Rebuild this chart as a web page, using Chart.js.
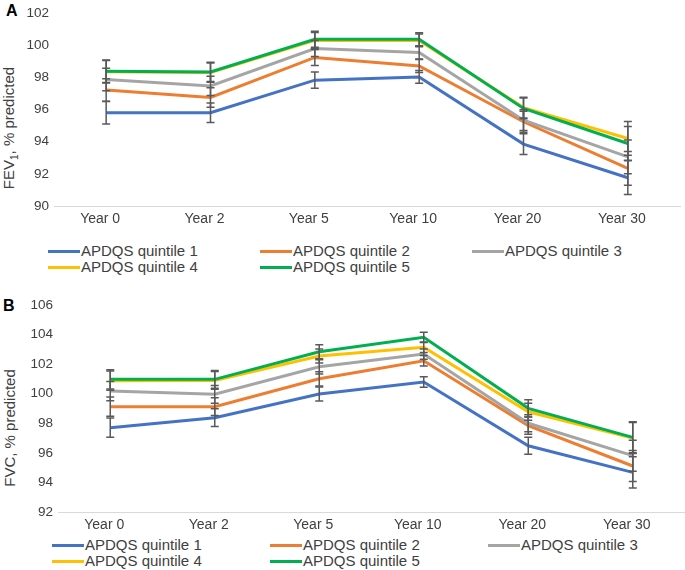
<!DOCTYPE html>
<html lang="en">
<head>
    <meta charset="UTF-8">
    <title>FEV1 and FVC by APDQS quintile</title>
    <style>
        body {
            margin: 0;
            font-family: "Liberation Sans", Arial, sans-serif;
            background: #fff;
        }
        .page {
            position: relative;
            width: 685px;
            height: 570px;
        }
        canvas {
            position: absolute;
            left: 0;
        }
        .panel {
            position: absolute;
            font-weight: bold;
            font-size: 16px;
            color: #000;
        }
        .ytitle {
            position: absolute;
            font-size: 15px;
            color: #404040;
            white-space: nowrap;
            transform: translate(-50%, -50%) rotate(-90deg);
        }
        .ytitle sub {
            font-size: 10px;
        }
        .legend {
            position: absolute;
            display: grid;
            font-size: 15px;
            color: #404040;
            line-height: 16px;
        }
        .legend .item {
            display: flex;
            align-items: center;
            white-space: nowrap;
        }
        .legend .swatch {
            display: inline-block;
            width: 32px;
            height: 3px;
            margin-right: 1px;
        }
    </style>
    <script src="https://cdn.jsdelivr.net/npm/chart.js"></script>
</head>
<body>
<div class="page">
    <div class="panel" style="left:6px; top:2px;">A</div>
    <div class="ytitle" style="left:10px; top:128px;">FEV<sub>1</sub>, % predicted</div>
    <canvas id="chartA" width="685" height="230" style="top:0;"></canvas>
    <div id="legendA" class="legend" style="left:48px; top:243px; grid-template-columns: 212px 212px 212px;"></div>

    <div class="panel" style="left:3px; top:297px;">B</div>
    <div class="ytitle" style="left:9px; top:428px;">FVC, % predicted</div>
    <canvas id="chartB" width="685" height="246" style="top:290px;"></canvas>
    <div id="legendB" class="legend" style="left:52px; top:537px; grid-template-columns: 218px 218px 218px;"></div>
</div>

<script>
    // categorías y series
    const years = ['Year 0', 'Year 2', 'Year 5', 'Year 10', 'Year 20', 'Year 30'];
    const quintiles = ['APDQS quintile 1', 'APDQS quintile 2', 'APDQS quintile 3', 'APDQS quintile 4', 'APDQS quintile 5'];
    const colores = ['#4472C4', '#ED7D31', '#A5A5A5', '#FFC000', '#00B050'];

    // Panel A: FEV1, % predicted
    const fevQ1 = [95.8, 95.8, 97.83, 98.03, 93.85, 91.76];
    const fevQ2 = [97.22, 96.75, 99.24, 98.71, 95.24, 92.34];
    const fevQ3 = [97.87, 97.47, 99.8, 99.55, 95.34, 93.06];
    const fevQ4 = [98.35, 98.3, 100.3, 100.3, 96.12, 94.2];
    const fevQ5 = [98.39, 98.34, 100.37, 100.37, 96.07, 93.89];
    const fevErr = [0.7, 0.6, 0.5, 0.4, 0.65, 1.05];
    const fevTicks = { min: 90, max: 102, step: 2 };

    // Panel B: FVC, % predicted
    const fvcQ1 = [97.7, 98.38, 99.98, 100.79, 96.48, 94.68];
    const fvcQ2 = [99.12, 99.12, 101.01, 102.23, 97.84, 95.11];
    const fvcQ3 = [100.18, 99.96, 101.82, 102.68, 98.0, 95.81];
    const fvcQ4 = [100.88, 100.9, 102.55, 103.14, 98.78, 97.0];
    const fvcQ5 = [100.97, 100.97, 102.84, 103.81, 99.01, 97.05];
    const fvcErr = [0.65, 0.6, 0.48, 0.35, 0.58, 1.05];
    const fvcTicks = { min: 92, max: 106, step: 2 };

    const fuente = '"Liberation Sans", Arial, sans-serif';

    // barras de error dibujadas con las escalas del gráfico
    const errorBars = {
        id: 'errorBars',
        afterDatasetsDraw(chart, args, opts) {
            const ctx = chart.ctx;
            const y = chart.scales.y;
            const err = opts.err || [];
            ctx.save();
            ctx.strokeStyle = '#595959';
            ctx.lineWidth = 1.5;
            chart.data.datasets.forEach((ds, i) => {
                const meta = chart.getDatasetMeta(i);
                meta.data.forEach((pt, j) => {
                    const v = ds.data[j];
                    const e = err[j];
                    const x = pt.x;
                    const top = y.getPixelForValue(v + e);
                    const bot = y.getPixelForValue(v - e);
                    ctx.beginPath();
                    ctx.moveTo(x, top); ctx.lineTo(x, bot);
                    ctx.moveTo(x - 4, top); ctx.lineTo(x + 4, top);
                    ctx.moveTo(x - 4, bot); ctx.lineTo(x + 4, bot);
                    ctx.stroke();
                });
            });
            ctx.restore();
        }
    };

    function crearGrafico(id, series, err, rango, ejeY, pad) {
        const datasets = series.map((d, i) => ({
            label: quintiles[i],
            data: d,
            borderColor: colores[i],
            backgroundColor: colores[i],
            borderWidth: 3,
            pointRadius: 0,
            tension: 0,
            order: 4 - i
        }));
        return new Chart(document.getElementById(id), {
            type: 'line',
            data: { labels: years, datasets: datasets },
            plugins: [errorBars],
            options: {
                responsive: false,
                animation: false,
                layout: { padding: pad },
                plugins: {
                    legend: { display: false },
                    tooltip: { enabled: false },
                    errorBars: { err: err }
                },
                scales: {
                    x: {
                        offset: true,
                        grid: { display: false, drawTicks: false },
                        border: { color: '#D9D9D9', width: 1 },
                        ticks: { color: '#404040', padding: 5, labelOffset: -6, font: { family: fuente, size: 14 } },
                        afterFit: s => { s.height = 24; }
                    },
                    y: {
                        min: rango.min,
                        max: rango.max,
                        grid: { display: false, drawTicks: false },
                        border: { display: false },
                        ticks: { stepSize: rango.step, color: '#404040', padding: 5, font: { family: fuente, size: 13.5 } },
                        afterFit: s => { s.width = ejeY; }
                    }
                }
            }
        });
    }

    function leyenda(id, chart) {
        const cont = document.getElementById(id);
        chart.data.datasets.forEach(ds => {
            const item = document.createElement('div');
            item.className = 'item';
            const sw = document.createElement('span');
            sw.className = 'swatch';
            sw.style.background = ds.borderColor;
            item.appendChild(sw);
            item.appendChild(document.createTextNode(ds.label));
            cont.appendChild(item);
        });
    }

    const chartA = crearGrafico('chartA', [fevQ1, fevQ2, fevQ3, fevQ4, fevQ5], fevErr, fevTicks, 54,
        { top: 12, right: 5, bottom: 0, left: 0 });
    const chartB = crearGrafico('chartB', [fvcQ1, fvcQ2, fvcQ3, fvcQ4, fvcQ5], fvcErr, fvcTicks, 58,
        { top: 15, right: 0, bottom: 0, left: 0 });

    leyenda('legendA', chartA);
    leyenda('legendB', chartB);
</script>
</body>
</html>
